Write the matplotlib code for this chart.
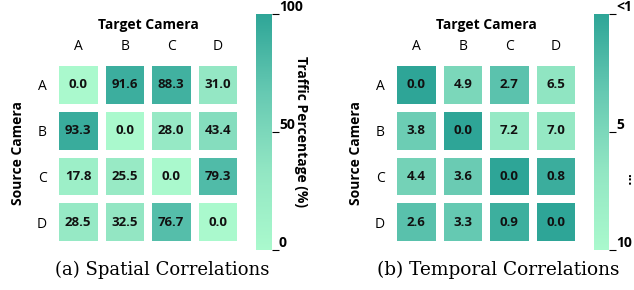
import matplotlib
matplotlib.use("Agg")
import matplotlib.pyplot as plt
import numpy as np
from matplotlib.colors import LinearSegmentedColormap

cameras = ["A", "B", "C", "D"]

spatial = np.array([
    [0.0, 91.6, 88.3, 31.0],
    [93.3, 0.0, 28.0, 43.4],
    [17.8, 25.5, 0.0, 79.3],
    [28.5, 32.5, 76.7, 0.0],
])

temporal = np.array([
    [0.0, 4.9, 2.7, 6.5],
    [3.8, 0.0, 7.2, 7.0],
    [4.4, 3.6, 0.0, 0.8],
    [2.6, 3.3, 0.9, 0.0],
])

spatial_ticks = [0, 50, 100]
spatial_ticklabels = ["0", "50", "100"]
temporal_ticks = [0, 5, 10]
temporal_ticklabels = ["<1", "5", "10"]

cmap = LinearSegmentedColormap.from_list("mint", ["#aaf9cd", "#92e6c3", "#66c9b2", "#2ea597"])

sans = "Open Sans"
serif = "DejaVu Serif"

fig = plt.figure(figsize=(6.34, 2.9), dpi=100)
W, H = 634, 290


def px_axes(x0, y0, x1, y1):
    return fig.add_axes([x0 / W, 1 - y1 / H, (x1 - x0) / W, (y1 - y0) / H])


def heat(ax, data, cm, vmin, vmax):
    mesh = ax.pcolormesh(data, cmap=cm, vmin=vmin, vmax=vmax,
                         edgecolors="white", linewidth=4.6)
    ax.set_xlim(0, 4)
    ax.set_ylim(4, 0)
    for s in ax.spines.values():
        s.set_visible(False)
    ax.set_xticks(np.arange(4) + 0.5)
    ax.set_yticks(np.arange(4) + 0.5)
    ax.set_xticklabels(cameras, fontsize=10, family=sans)
    ax.set_yticklabels(cameras, fontsize=10, family=sans)
    ax.tick_params(length=0, pad=6, top=True, bottom=False,
                   labeltop=True, labelbottom=False)
    ax.xaxis.set_label_position("top")
    ax.set_xlabel("Target Camera", fontsize=10, fontweight="bold", family=sans, labelpad=7)
    ax.set_ylabel("Source Camera", fontsize=10, fontweight="bold", family=sans, labelpad=8)
    for i in range(4):
        for j in range(4):
            ax.text(j + 0.5, i + 0.5, f"{data[i, j]:.1f}", ha="center", va="center",
                    fontsize=9.5, fontweight="bold", family=sans, color="#111111")
    return mesh


def cbar(cax, mesh, ticks, labels, invert=False):
    cb = fig.colorbar(mesh, cax=cax)
    cb.outline.set_visible(False)
    cb.set_ticks(ticks)
    cb.set_ticklabels(labels)
    cax.tick_params(length=5, width=0.8, pad=0, labelsize=10)
    for t in cax.get_yticklabels():
        t.set_fontweight("bold")
        t.set_family(sans)
        t.set_va("bottom")
    if invert:
        cax.invert_yaxis()
    return cb


ax1 = px_axes(55, 62, 241, 245)
m1 = heat(ax1, spatial, cmap, 0, 100)
cax1 = px_axes(256, 14, 272, 250)
cb1 = cbar(cax1, m1, spatial_ticks, spatial_ticklabels)
cb1.set_label("Traffic Percentage (%)", rotation=270, fontsize=10,
              fontweight="bold", family=sans, labelpad=4)

ax2 = px_axes(393, 62, 579, 245)
m2 = heat(ax2, temporal, cmap.reversed(), 0, 10)
cax2 = px_axes(594, 14, 609, 250)
cbar(cax2, m2, temporal_ticks, temporal_ticklabels, invert=True)
fig.text(630 / W, 1 - 180 / H, "...", rotation=270, fontsize=8,
         ha="center", va="center", fontweight="bold")

fig.text(162 / W, 1 - 270 / H, "(a) Spatial Correlations", fontsize=13,
         family=serif, ha="center", va="center")
fig.text(498 / W, 1 - 270 / H, "(b) Temporal Correlations", fontsize=13.3,
         family=serif, ha="center", va="center")

fig.savefig("out.png", dpi=100)
